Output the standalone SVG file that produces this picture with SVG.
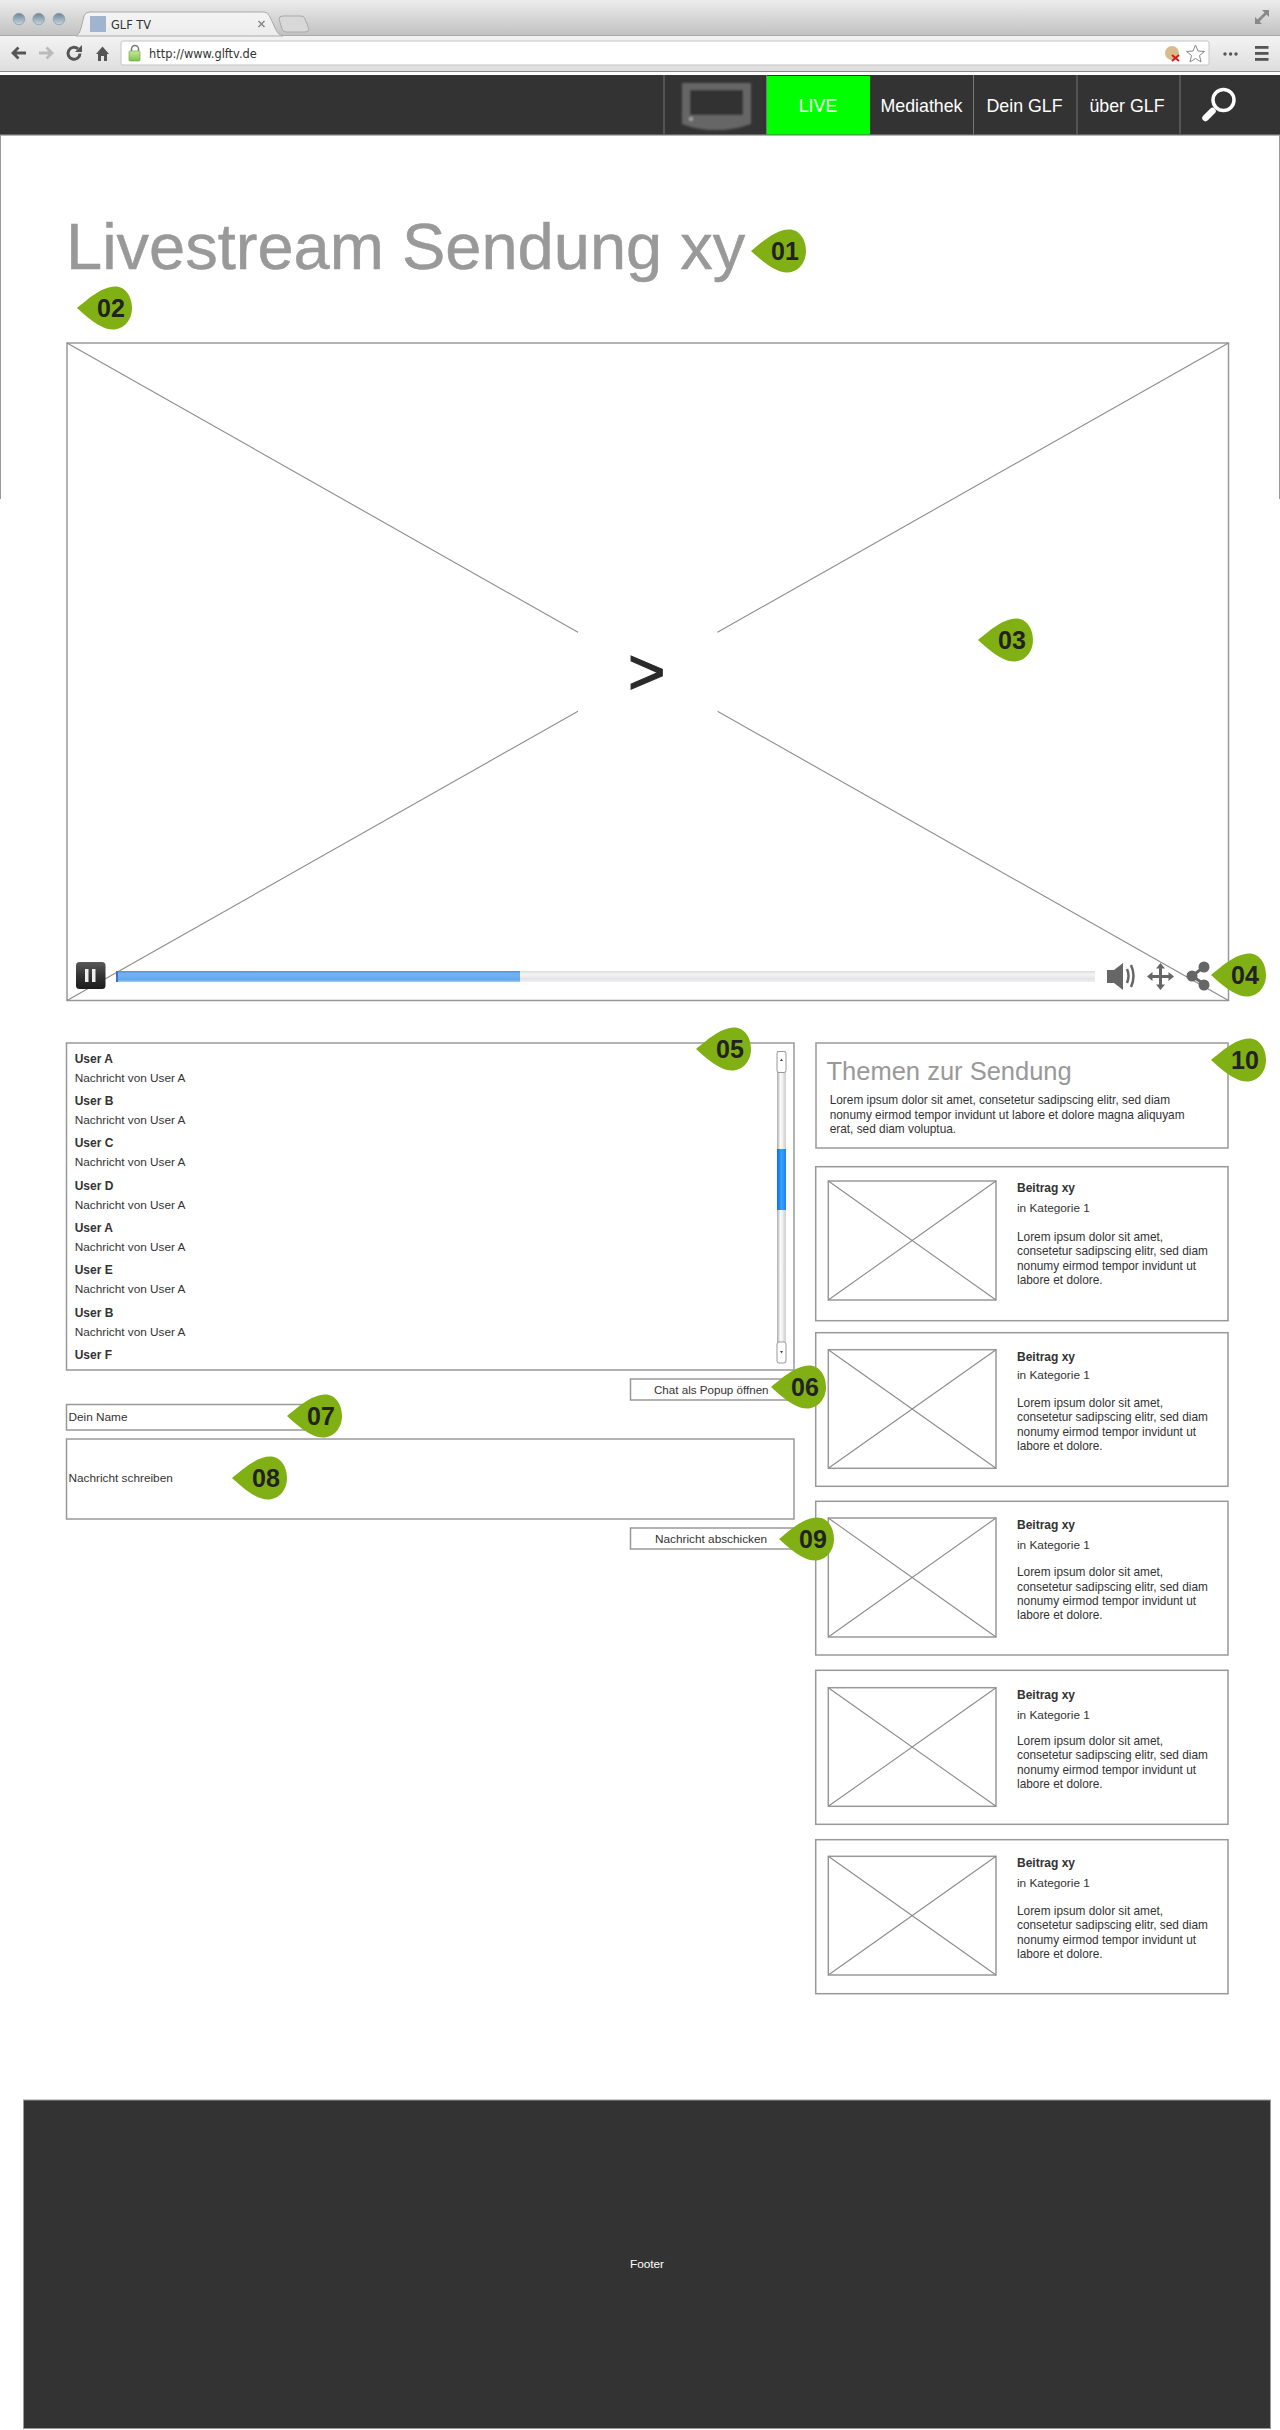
<svg xmlns="http://www.w3.org/2000/svg" xmlns:xlink="http://www.w3.org/1999/xlink" width="1280" height="2430" viewBox="0 0 1280 2430">
<style>
text{font-family:"Liberation Sans",Arial,sans-serif;fill:#333}
.box{fill:#fff;stroke:#999;stroke-width:1.5}
.x{stroke:#8c8c8c;stroke-width:1.1;fill:none}
.b{font-size:12px;font-weight:bold}
.t{font-size:11.8px}
.l{font-size:11.85px}
.nav{font-size:17.8px;fill:#fff;text-anchor:middle}
.num{font-size:25px;font-weight:bold;fill:#222;text-anchor:middle}
.div{stroke:#777;stroke-width:1}
.ui{font-family:"DejaVu Sans",sans-serif;fill:#333}
.ctl{fill:#666}
</style>
<defs>
<linearGradient id="gTop" x1="0" y1="0" x2="0" y2="1"><stop offset="0" stop-color="#ececec"/><stop offset="1" stop-color="#c2c2c2"/></linearGradient>
<linearGradient id="gTool" x1="0" y1="0" x2="0" y2="1"><stop offset="0" stop-color="#f4f4f4"/><stop offset="1" stop-color="#dedede"/></linearGradient>
<linearGradient id="gTab" x1="0" y1="0" x2="0" y2="1"><stop offset="0" stop-color="#f4f4f4"/><stop offset="1" stop-color="#ececec"/></linearGradient>
<linearGradient id="gLight" x1="0" y1="0" x2="0" y2="1"><stop offset="0" stop-color="#6f8494"/><stop offset="1" stop-color="#c4d6e2"/></linearGradient>
<linearGradient id="gPause" x1="0" y1="0" x2="0" y2="1"><stop offset="0" stop-color="#5a5a5a"/><stop offset="0.5" stop-color="#333"/><stop offset="1" stop-color="#1c1c1c"/></linearGradient>
<linearGradient id="gBlue" x1="0" y1="0" x2="0" y2="1"><stop offset="0" stop-color="#4f91d8"/><stop offset="0.25" stop-color="#74b4f4"/><stop offset="0.8" stop-color="#62a8ee"/><stop offset="1" stop-color="#a6cff2"/></linearGradient>
<linearGradient id="gGrey" x1="0" y1="0" x2="0" y2="1"><stop offset="0" stop-color="#dcdcdc"/><stop offset="0.3" stop-color="#f4f4f4"/><stop offset="0.7" stop-color="#e4e4e8"/><stop offset="1" stop-color="#f0f0f0"/></linearGradient>
<linearGradient id="gScroll" x1="0" y1="0" x2="1" y2="0"><stop offset="0" stop-color="#aaa"/><stop offset="0.4" stop-color="#fff"/><stop offset="1" stop-color="#ccc"/></linearGradient>
<linearGradient id="gThumb" x1="0" y1="0" x2="1" y2="0"><stop offset="0" stop-color="#0a6fe0"/><stop offset="0.5" stop-color="#3aa0ff"/><stop offset="1" stop-color="#1a80f0"/></linearGradient>
<linearGradient id="gLock" x1="0" y1="0" x2="0" y2="1"><stop offset="0" stop-color="#c8e89a"/><stop offset="1" stop-color="#7cc24c"/></linearGradient>
<filter id="soft" x="-10%" y="-10%" width="120%" height="120%"><feGaussianBlur stdDeviation="1"/></filter>
<filter id="soft2" x="-10%" y="-10%" width="120%" height="120%"><feGaussianBlur stdDeviation="0.5"/></filter>
<path id="drop" fill="#80b014" d="M0 0C9-7 24-21.5 38-21.5C49-21.5 55-11 55 0C55 12 47 21.5 36 21.5C23 21.5 9 8 0 0Z"/>
</defs>

<rect width="1280" height="2430" fill="#fff"/>

<g id="browser">
<rect x="0" y="0" width="1280" height="35" fill="url(#gTop)"/>
<rect x="0" y="35" width="1280" height="36" fill="url(#gTool)"/>
<line x1="0" y1="35.5" x2="1280" y2="35.5" stroke="#aaa"/>
<line x1="0" y1="71.5" x2="1280" y2="71.5" stroke="#888"/>
<rect x="0" y="72" width="1280" height="3" fill="#fff"/>
<g fill="url(#gLight)" stroke="#8a9aa6" stroke-width="0.7"><circle cx="19" cy="19" r="5.8"/><circle cx="38.7" cy="19" r="5.8"/><circle cx="59" cy="19" r="5.8"/></g>
<path d="M76 36Q80 34 81 28L84 16Q85 12 90 12H264Q268 12 270 17L276 30Q278 35 283 36Z" fill="url(#gTab)" stroke="#aaa"/>
<rect x="90" y="16" width="16" height="16" fill="#a0b4d0"/>
<text class="ui" x="111" y="29" font-size="11.4">GLF TV</text>
<path d="M258.500 21L264.500 27M264.500 21L258.500 27" stroke="#888" stroke-width="1.5"/>
<path d="M279 19Q279 16 283 16H301Q304 16 305 19L309 29Q309 32 305 32H286Q283 32 282 29Z" fill="#d8d8d8" stroke="#aaa"/>
<g id="expand" fill="#888"><path d="M1262 10H1269V17L1266.500 14.500L1263 18L1261 16L1264.500 12.500Z"/><path d="M1255 24V17L1257.500 19.500L1261 16L1263 18L1259.500 21.500L1262 24Z"/></g>
<g id="nav-back" fill="none" stroke-width="2.800"><path d="M26 53H14M18.500 47.500L13 53L18.500 58.500" stroke="#555"/><path d="M39 53H51M46.500 47.500L52 53L46.500 58.500" stroke="#bbb"/></g>
<path d="M80 53.500A6 6 0 1 1 78 48.800" fill="none" stroke="#555" stroke-width="3"/><path d="M82 45V52H75Z" fill="#555"/>
<path d="M96 54L102.500 46.500L109 54H107V61H104V56H101V61H98V54Z" fill="#555"/>
<rect x="121" y="41" width="1088" height="24" rx="2" fill="#fff" stroke="#c4c4c4"/>
<path d="M131.500 51V49A3.500 3.500 0 0 1 138.500 49V51" fill="none" stroke="#777" stroke-width="1.500"/>
<rect x="129" y="51" width="11" height="10" rx="1" fill="url(#gLock)" stroke="#6aa040" stroke-width="0.6"/>
<text class="ui" x="149" y="58" font-size="11.400">http://www.glftv.de</text>
<circle cx="1172" cy="53" r="7" fill="#d8bc8c"/><path d="M1172 55L1179 61M1179 55L1172 61" stroke="#d81818" stroke-width="2"/>
<path d="M1195.500 45L1198 51L1204.500 51.500L1199.500 55.500L1201 62L1195.500 58.500L1190 62L1191.500 55.500L1186.500 51.500L1193 51Z" fill="#fff" stroke="#888"/>
<g fill="#555"><circle cx="1225" cy="54" r="1.700"/><circle cx="1230.600" cy="54" r="1.700"/><circle cx="1236" cy="54" r="1.700"/><rect x="1255" y="46" width="13.500" height="2.800"/><rect x="1255" y="52" width="13.500" height="2.800"/><rect x="1255" y="58" width="13.500" height="2.800"/></g>
</g>

<g id="page-frame" stroke="#999" stroke-width="1"><line x1="0.500" y1="135" x2="0.500" y2="499"/><line x1="1279.500" y1="135" x2="1279.500" y2="499"/></g>

<g id="navbar">
<rect x="0" y="75" width="1280" height="60" fill="#333"/>
<rect x="0" y="134.500" width="1280" height="1.200" fill="#999"/>
<rect x="766.500" y="76" width="103.500" height="58.500" fill="#0f0"/>
<g class="div"><line x1="664" y1="75" x2="664" y2="134"/><line x1="766.500" y1="75" x2="766.500" y2="134"/><line x1="973.500" y1="75" x2="973.500" y2="134"/><line x1="1077" y1="75" x2="1077" y2="134"/><line x1="1180" y1="75" x2="1180" y2="134"/></g>
<g id="tv" filter="url(#soft)"><path d="M682 83H751V124Q735 130 716 130Q697 130 682 124Z" fill="#666"/><rect x="690" y="90" width="53" height="25" fill="#333"/><circle cx="691" cy="119" r="2" fill="#aaa"/></g>
<text class="nav" x="818" y="112">LIVE</text>
<text class="nav" x="921.500" y="112">Mediathek</text>
<text class="nav" x="1024.500" y="112">Dein GLF</text>
<text class="nav" x="1127" y="112">über GLF</text>
<g id="search" fill="none" stroke="#fff"><circle cx="1223.500" cy="100" r="10.500" stroke-width="3.500"/><line x1="1205.500" y1="118" x2="1212.500" y2="111" stroke-width="6.500" stroke-linecap="round"/></g>
</g>

<text id="title" x="66" y="269" font-size="65" style="fill:#999;stroke:#999;stroke-width:0.5">Livestream Sendung xy</text>

<g id="video">
<rect class="box" x="67" y="343" width="1161.500" height="657.500"/>
<path class="x" d="M67 343L1228.500 1000.500M1228.500 343L67 1000.500"/>
<rect x="578" y="632" width="139.500" height="80" fill="#fff"/>
<text x="628" y="694" font-size="64" style="fill:#2a2a2a;stroke:#2a2a2a;stroke-width:1.2">&gt;</text>
<g id="pause"><rect x="76" y="962" width="29.500" height="27" rx="3.500" fill="url(#gPause)"/><rect x="85" y="969" width="3.500" height="13" fill="#eee"/><rect x="92" y="969" width="3.500" height="13" fill="#eee"/></g>
<rect x="116" y="971" width="979" height="11" fill="url(#gGrey)"/>
<rect x="116" y="971" width="404" height="11" fill="url(#gBlue)"/>
<rect x="116" y="971" width="2" height="11" fill="#3a75bb"/>
<g id="volume" class="ctl" filter="url(#soft2)"><path d="M1107 970H1114L1123 963V990L1114 983H1107Z"/><path d="M1127 969Q1130 976 1127 983M1131 965Q1136 976 1131 987" fill="none" stroke="#666" stroke-width="2.500"/></g>
<g id="fullscreen" class="ctl" filter="url(#soft2)"><path d="M1160.500 963L1165 968.500H1162V975H1168.500V972L1174 976.500L1168.500 981V978H1162V984.500H1165L1160.500 990L1156 984.500H1159V978H1152.500V981L1147 976.500L1152.500 972V975H1159V968.500H1156Z"/></g>
<g id="share" filter="url(#soft2)"><path d="M1204 967L1192 976L1204 984" fill="none" stroke="#666" stroke-width="3"/><g class="ctl"><circle cx="1204" cy="967" r="5.500"/><circle cx="1192" cy="976" r="5.500"/><circle cx="1204" cy="985" r="5.500"/></g></g>
</g>

<g id="chat">
<rect class="box" x="66.500" y="1043" width="727.500" height="327"/>
<text class="b" x="74.700" y="1062.700">User A</text><text class="t" x="74.700" y="1081.700">Nachricht von User A</text>
<text class="b" x="74.700" y="1105">User B</text><text class="t" x="74.700" y="1124">Nachricht von User A</text>
<text class="b" x="74.700" y="1147.400">User C</text><text class="t" x="74.700" y="1166.400">Nachricht von User A</text>
<text class="b" x="74.700" y="1189.700">User D</text><text class="t" x="74.700" y="1208.700">Nachricht von User A</text>
<text class="b" x="74.700" y="1232">User A</text><text class="t" x="74.700" y="1251">Nachricht von User A</text>
<text class="b" x="74.700" y="1274.400">User E</text><text class="t" x="74.700" y="1293.400">Nachricht von User A</text>
<text class="b" x="74.700" y="1316.700">User B</text><text class="t" x="74.700" y="1335.700">Nachricht von User A</text>
<text class="b" x="74.700" y="1359">User F</text>
<g id="scrollbar">
<rect x="777" y="1051" width="9" height="312" fill="url(#gScroll)"/>
<rect x="777" y="1149" width="9" height="61" fill="url(#gThumb)"/>
<rect x="777" y="1051.500" width="9" height="21" rx="2" fill="#fff" stroke="#999"/>
<rect x="777" y="1342" width="9" height="21" rx="2" fill="#fff" stroke="#999"/>
<path d="M780 1061L781.500 1058.500L783 1061Z" fill="#444"/><path d="M780 1351L781.500 1353.500L783 1351Z" fill="#444"/>
</g>
</g>

<g id="popup-button"><rect class="box" x="630.500" y="1379" width="165" height="21"/><text class="t" x="654" y="1394" style="font-size:11.6px">Chat als Popup öffnen</text></g>
<g id="name-field"><rect class="box" x="66.500" y="1404.500" width="245" height="25.500"/><text class="t" x="68.500" y="1421">Dein Name</text></g>
<g id="message-field"><rect class="box" x="66.500" y="1439" width="727.500" height="80"/><text class="t" x="68.500" y="1482">Nachricht schreiben</text></g>
<g id="send-button"><rect class="box" x="630.500" y="1528" width="165" height="21"/><text class="t" x="655" y="1542.700">Nachricht abschicken</text></g>

<g id="topics">
<rect class="box" x="816" y="1043" width="412" height="105"/>
<text x="826.500" y="1080" font-size="25.500" style="fill:#999">Themen zur Sendung</text>
<text class="l" x="829.700" y="1104">Lorem ipsum dolor sit amet, consetetur sadipscing elitr, sed diam</text>
<text class="l" x="829.700" y="1118.500">nonumy eirmod tempor invidunt ut labore et dolore magna aliquyam</text>
<text class="l" x="829.700" y="1133">erat, sed diam voluptua.</text>
</g>

<g id="card-1">
<rect class="box" x="815.700" y="1166.700" width="412.300" height="154"/>
<rect class="box" x="828.300" y="1181" width="167.700" height="119"/>
<path class="x" d="M828.300 1181L996 1300M996 1181L828.300 1300"/>
<text class="b" x="1017" y="1192">Beitrag xy</text><text class="t" x="1017" y="1212">in Kategorie 1</text>
<text class="l" x="1017" y="1240.700">Lorem ipsum dolor sit amet,</text><text class="l" x="1017" y="1255">consetetur sadipscing elitr, sed diam</text><text class="l" x="1017" y="1269.500">nonumy eirmod tempor invidunt ut</text><text class="l" x="1017" y="1284">labore et dolore.</text>
</g>
<g id="card-2">
<rect class="box" x="815.700" y="1332.700" width="412.300" height="153.600"/>
<rect class="box" x="828.300" y="1349.700" width="167.700" height="118.600"/>
<path class="x" d="M828.300 1349.700L996 1468.300M996 1349.700L828.300 1468.300"/>
<text class="b" x="1017" y="1360.700">Beitrag xy</text><text class="t" x="1017" y="1379">in Kategorie 1</text>
<text class="l" x="1017" y="1406.700">Lorem ipsum dolor sit amet,</text><text class="l" x="1017" y="1421">consetetur sadipscing elitr, sed diam</text><text class="l" x="1017" y="1435.600">nonumy eirmod tempor invidunt ut</text><text class="l" x="1017" y="1450">labore et dolore.</text>
</g>
<g id="card-3">
<rect class="box" x="815.700" y="1501.300" width="412.300" height="153.700"/>
<rect class="box" x="828.300" y="1518" width="167.700" height="119"/>
<path class="x" d="M828.300 1518L996 1637M996 1518L828.300 1637"/>
<text class="b" x="1017" y="1529.300">Beitrag xy</text><text class="t" x="1017" y="1549">in Kategorie 1</text>
<text class="l" x="1017" y="1576">Lorem ipsum dolor sit amet,</text><text class="l" x="1017" y="1590.600">consetetur sadipscing elitr, sed diam</text><text class="l" x="1017" y="1605">nonumy eirmod tempor invidunt ut</text><text class="l" x="1017" y="1619.300">labore et dolore.</text>
</g>
<g id="card-4">
<rect class="box" x="815.700" y="1670.300" width="412.300" height="154"/>
<rect class="box" x="828.300" y="1687.700" width="167.700" height="118.600"/>
<path class="x" d="M828.300 1687.700L996 1806.300M996 1687.700L828.300 1806.300"/>
<text class="b" x="1017" y="1698.700">Beitrag xy</text><text class="t" x="1017" y="1718.700">in Kategorie 1</text>
<text class="l" x="1017" y="1744.700">Lorem ipsum dolor sit amet,</text><text class="l" x="1017" y="1759">consetetur sadipscing elitr, sed diam</text><text class="l" x="1017" y="1773.600">nonumy eirmod tempor invidunt ut</text><text class="l" x="1017" y="1788">labore et dolore.</text>
</g>
<g id="card-5">
<rect class="box" x="815.700" y="1839.700" width="412.300" height="154"/>
<rect class="box" x="828.300" y="1856.300" width="167.700" height="118.700"/>
<path class="x" d="M828.300 1856.300L996 1975M996 1856.300L828.300 1975"/>
<text class="b" x="1017" y="1867.300">Beitrag xy</text><text class="t" x="1017" y="1887">in Kategorie 1</text>
<text class="l" x="1017" y="1915">Lorem ipsum dolor sit amet,</text><text class="l" x="1017" y="1929.300">consetetur sadipscing elitr, sed diam</text><text class="l" x="1017" y="1943.600">nonumy eirmod tempor invidunt ut</text><text class="l" x="1017" y="1958">labore et dolore.</text>
</g>

<g id="footer">
<rect x="23.500" y="2100" width="1247" height="328.500" fill="#333" stroke="#999"/>
<text class="t" x="647" y="2268" text-anchor="middle" style="fill:#fff">Footer</text>
</g>

<g id="badges">
<g id="badge-01" transform="translate(751 251)"><use href="#drop"/><text class="num" x="34" y="9">01</text></g>
<g id="badge-02" transform="translate(77 308)"><use href="#drop"/><text class="num" x="34" y="9">02</text></g>
<g id="badge-03" transform="translate(978 640)"><use href="#drop"/><text class="num" x="34" y="9">03</text></g>
<g id="badge-04" transform="translate(1211 975)"><use href="#drop"/><text class="num" x="34" y="9">04</text></g>
<g id="badge-05" transform="translate(696 1049)"><use href="#drop"/><text class="num" x="34" y="9">05</text></g>
<g id="badge-06" transform="translate(771 1387)"><use href="#drop"/><text class="num" x="34" y="9">06</text></g>
<g id="badge-07" transform="translate(287 1416)"><use href="#drop"/><text class="num" x="34" y="9">07</text></g>
<g id="badge-08" transform="translate(232 1478)"><use href="#drop"/><text class="num" x="34" y="9">08</text></g>
<g id="badge-09" transform="translate(779 1539)"><use href="#drop"/><text class="num" x="34" y="9">09</text></g>
<g id="badge-10" transform="translate(1211 1060)"><use href="#drop"/><text class="num" x="34" y="9">10</text></g>
</g>
</svg>
